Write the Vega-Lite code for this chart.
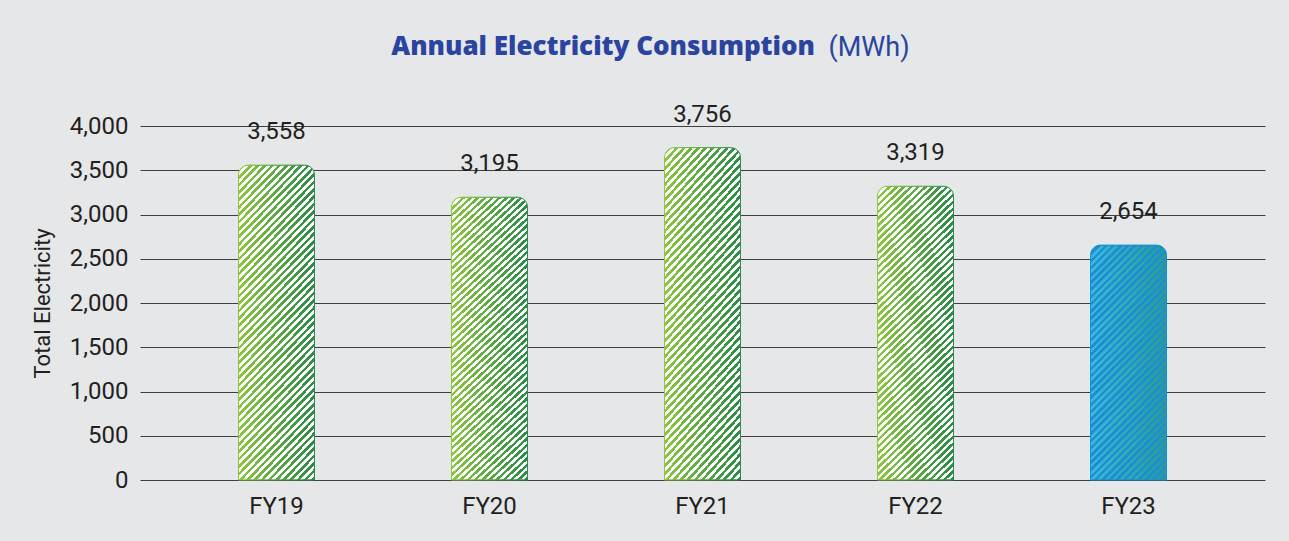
{
"$schema": "https://vega.github.io/schema/vega-lite/v6.json",
"width": 1125,
"height": 354,
"autosize": {"type": "none"},
"padding": {"left": 140, "top": 126, "right": 24, "bottom": 61},
"background": "#e6e7e9",
"title": {"text": "Annual Electricity Consumption", "anchor": "end", "frame": "group", "dx": -450, "offset": -48, "baseline": "alphabetic", "fontSize": 26, "fontWeight": 800, "font": "Open Sans", "color": "#2a44a0"},
"data": {"values": [
{"year": "FY19", "value": 3558},
{"year": "FY20", "value": 3195},
{"year": "FY21", "value": 3756},
{"year": "FY22", "value": 3319},
{"year": "FY23", "value": 2654}
]},
"encoding": {
"x": {"field": "year", "type": "nominal", "sort": null, "scale": {"paddingInner": 0.6432, "paddingOuter": 0.4624},
 "axis": {"title": "(MWh)", "titleX": 688, "titleY": -425, "titleAlign": "left", "titleBaseline": "alphabetic", "titleAngle": 0, "titleFontSize": 27, "titleFontWeight": "normal", "titleColor": "#2a44a0", "titleFont": "Roboto",
 "labelAngle": 0, "labelFontSize": 24, "labelFont": "Roboto", "labelColor": "#231f20", "labelPadding": 14, "ticks": false, "domain": false, "grid": false}},
"y": {"field": "value", "type": "quantitative", "scale": {"domain": [0, 4000], "nice": false},
 "axis": {"values": [0, 500, 1000, 1500, 2000, 2500, 3000, 3500, 4000], "format": ",.0f", "title": "Total Electricity", "titleX": -98, "titleY": 177, "titleAlign": "center", "titleBaseline": "middle", "titleFontSize": 22, "titleFontWeight": "normal", "titleColor": "#231f20", "titleFont": "Roboto",
 "labelFontSize": 24, "labelFont": "Roboto", "labelColor": "#231f20", "labelPadding": 12, "ticks": false, "domain": false, "grid": true, "gridColor": "#3f3f3f", "gridWidth": 1}}
},
"layer": [
{"transform": [{"filter": "datum.year != 'FY23'"}],
 "mark": {"type": "bar", "cornerRadiusEnd": 10, "fill": {"gradient": "linear", "x1": 0, "y1": 0, "x2": 1, "y2": 0, "stops": [{"offset": 0, "color": "#8dc63f"}, {"offset": 1, "color": "#2b8b47"}]}}},
{"transform": [{"filter": "datum.year == 'FY23'"}],
 "mark": {"type": "bar", "cornerRadiusEnd": 10, "fill": {"gradient": "linear", "x1": 0, "y1": 0, "x2": 1, "y2": 0, "stops": [{"offset": 0, "color": "#3ab8df"}, {"offset": 1, "color": "#269c90"}]}}},
{"transform": [{"filter": "datum.year != 'FY23'"}],
 "mark": {"type": "bar", "cornerRadiusEnd": 10, "strokeWidth": 1,
 "stroke": {"gradient": "linear", "x1": 0, "y1": 0, "x2": 1, "y2": 0, "stops": [{"offset": 0, "color": "#8dc63f"}, {"offset": 1, "color": "#2b8b47"}]},
 "fill": {"gradient": "linear", "x1": 0, "y1": 0, "x2": 0.34402, "y2": 1.38514, "stops": [
{"offset":0,"color":"#fff"},
{"offset":0.008,"color":"#fff"},{"offset":0.008,"color":"rgba(255,255,255,0)"},
{"offset":0.016,"color":"rgba(255,255,255,0)"},{"offset":0.016,"color":"#fff"},
{"offset":0.024,"color":"#fff"},{"offset":0.024,"color":"rgba(255,255,255,0)"},
{"offset":0.032,"color":"rgba(255,255,255,0)"},{"offset":0.032,"color":"#fff"},
{"offset":0.04,"color":"#fff"},{"offset":0.04,"color":"rgba(255,255,255,0)"},
{"offset":0.048,"color":"rgba(255,255,255,0)"},{"offset":0.048,"color":"#fff"},
{"offset":0.056,"color":"#fff"},{"offset":0.056,"color":"rgba(255,255,255,0)"},
{"offset":0.064,"color":"rgba(255,255,255,0)"},{"offset":0.064,"color":"#fff"},
{"offset":0.072,"color":"#fff"},{"offset":0.072,"color":"rgba(255,255,255,0)"},
{"offset":0.08,"color":"rgba(255,255,255,0)"},{"offset":0.08,"color":"#fff"},
{"offset":0.088,"color":"#fff"},{"offset":0.088,"color":"rgba(255,255,255,0)"},
{"offset":0.096,"color":"rgba(255,255,255,0)"},{"offset":0.096,"color":"#fff"},
{"offset":0.104,"color":"#fff"},{"offset":0.104,"color":"rgba(255,255,255,0)"},
{"offset":0.112,"color":"rgba(255,255,255,0)"},{"offset":0.112,"color":"#fff"},
{"offset":0.12,"color":"#fff"},{"offset":0.12,"color":"rgba(255,255,255,0)"},
{"offset":0.128,"color":"rgba(255,255,255,0)"},{"offset":0.128,"color":"#fff"},
{"offset":0.136,"color":"#fff"},{"offset":0.136,"color":"rgba(255,255,255,0)"},
{"offset":0.144,"color":"rgba(255,255,255,0)"},{"offset":0.144,"color":"#fff"},
{"offset":0.152,"color":"#fff"},{"offset":0.152,"color":"rgba(255,255,255,0)"},
{"offset":0.16,"color":"rgba(255,255,255,0)"},{"offset":0.16,"color":"#fff"},
{"offset":0.168,"color":"#fff"},{"offset":0.168,"color":"rgba(255,255,255,0)"},
{"offset":0.176,"color":"rgba(255,255,255,0)"},{"offset":0.176,"color":"#fff"},
{"offset":0.184,"color":"#fff"},{"offset":0.184,"color":"rgba(255,255,255,0)"},
{"offset":0.192,"color":"rgba(255,255,255,0)"},{"offset":0.192,"color":"#fff"},
{"offset":0.2,"color":"#fff"},{"offset":0.2,"color":"rgba(255,255,255,0)"},
{"offset":0.208,"color":"rgba(255,255,255,0)"},{"offset":0.208,"color":"#fff"},
{"offset":0.216,"color":"#fff"},{"offset":0.216,"color":"rgba(255,255,255,0)"},
{"offset":0.224,"color":"rgba(255,255,255,0)"},{"offset":0.224,"color":"#fff"},
{"offset":0.232,"color":"#fff"},{"offset":0.232,"color":"rgba(255,255,255,0)"},
{"offset":0.24,"color":"rgba(255,255,255,0)"},{"offset":0.24,"color":"#fff"},
{"offset":0.248,"color":"#fff"},{"offset":0.248,"color":"rgba(255,255,255,0)"},
{"offset":0.256,"color":"rgba(255,255,255,0)"},{"offset":0.256,"color":"#fff"},
{"offset":0.264,"color":"#fff"},{"offset":0.264,"color":"rgba(255,255,255,0)"},
{"offset":0.272,"color":"rgba(255,255,255,0)"},{"offset":0.272,"color":"#fff"},
{"offset":0.28,"color":"#fff"},{"offset":0.28,"color":"rgba(255,255,255,0)"},
{"offset":0.288,"color":"rgba(255,255,255,0)"},{"offset":0.288,"color":"#fff"},
{"offset":0.296,"color":"#fff"},{"offset":0.296,"color":"rgba(255,255,255,0)"},
{"offset":0.304,"color":"rgba(255,255,255,0)"},{"offset":0.304,"color":"#fff"},
{"offset":0.312,"color":"#fff"},{"offset":0.312,"color":"rgba(255,255,255,0)"},
{"offset":0.32,"color":"rgba(255,255,255,0)"},{"offset":0.32,"color":"#fff"},
{"offset":0.328,"color":"#fff"},{"offset":0.328,"color":"rgba(255,255,255,0)"},
{"offset":0.336,"color":"rgba(255,255,255,0)"},{"offset":0.336,"color":"#fff"},
{"offset":0.344,"color":"#fff"},{"offset":0.344,"color":"rgba(255,255,255,0)"},
{"offset":0.352,"color":"rgba(255,255,255,0)"},{"offset":0.352,"color":"#fff"},
{"offset":0.36,"color":"#fff"},{"offset":0.36,"color":"rgba(255,255,255,0)"},
{"offset":0.368,"color":"rgba(255,255,255,0)"},{"offset":0.368,"color":"#fff"},
{"offset":0.376,"color":"#fff"},{"offset":0.376,"color":"rgba(255,255,255,0)"},
{"offset":0.384,"color":"rgba(255,255,255,0)"},{"offset":0.384,"color":"#fff"},
{"offset":0.392,"color":"#fff"},{"offset":0.392,"color":"rgba(255,255,255,0)"},
{"offset":0.4,"color":"rgba(255,255,255,0)"},{"offset":0.4,"color":"#fff"},
{"offset":0.408,"color":"#fff"},{"offset":0.408,"color":"rgba(255,255,255,0)"},
{"offset":0.416,"color":"rgba(255,255,255,0)"},{"offset":0.416,"color":"#fff"},
{"offset":0.424,"color":"#fff"},{"offset":0.424,"color":"rgba(255,255,255,0)"},
{"offset":0.432,"color":"rgba(255,255,255,0)"},{"offset":0.432,"color":"#fff"},
{"offset":0.44,"color":"#fff"},{"offset":0.44,"color":"rgba(255,255,255,0)"},
{"offset":0.448,"color":"rgba(255,255,255,0)"},{"offset":0.448,"color":"#fff"},
{"offset":0.456,"color":"#fff"},{"offset":0.456,"color":"rgba(255,255,255,0)"},
{"offset":0.464,"color":"rgba(255,255,255,0)"},{"offset":0.464,"color":"#fff"},
{"offset":0.472,"color":"#fff"},{"offset":0.472,"color":"rgba(255,255,255,0)"},
{"offset":0.48,"color":"rgba(255,255,255,0)"},{"offset":0.48,"color":"#fff"},
{"offset":0.488,"color":"#fff"},{"offset":0.488,"color":"rgba(255,255,255,0)"},
{"offset":0.496,"color":"rgba(255,255,255,0)"},{"offset":0.496,"color":"#fff"},
{"offset":0.504,"color":"#fff"},{"offset":0.504,"color":"rgba(255,255,255,0)"},
{"offset":0.512,"color":"rgba(255,255,255,0)"},{"offset":0.512,"color":"#fff"},
{"offset":0.52,"color":"#fff"},{"offset":0.52,"color":"rgba(255,255,255,0)"},
{"offset":0.528,"color":"rgba(255,255,255,0)"},{"offset":0.528,"color":"#fff"},
{"offset":0.536,"color":"#fff"},{"offset":0.536,"color":"rgba(255,255,255,0)"},
{"offset":0.544,"color":"rgba(255,255,255,0)"},{"offset":0.544,"color":"#fff"},
{"offset":0.552,"color":"#fff"},{"offset":0.552,"color":"rgba(255,255,255,0)"},
{"offset":0.56,"color":"rgba(255,255,255,0)"},{"offset":0.56,"color":"#fff"},
{"offset":0.568,"color":"#fff"},{"offset":0.568,"color":"rgba(255,255,255,0)"},
{"offset":0.576,"color":"rgba(255,255,255,0)"},{"offset":0.576,"color":"#fff"},
{"offset":0.584,"color":"#fff"},{"offset":0.584,"color":"rgba(255,255,255,0)"},
{"offset":0.592,"color":"rgba(255,255,255,0)"},{"offset":0.592,"color":"#fff"},
{"offset":0.6,"color":"#fff"},{"offset":0.6,"color":"rgba(255,255,255,0)"},
{"offset":0.608,"color":"rgba(255,255,255,0)"},{"offset":0.608,"color":"#fff"},
{"offset":0.616,"color":"#fff"},{"offset":0.616,"color":"rgba(255,255,255,0)"},
{"offset":0.624,"color":"rgba(255,255,255,0)"},{"offset":0.624,"color":"#fff"},
{"offset":0.632,"color":"#fff"},{"offset":0.632,"color":"rgba(255,255,255,0)"},
{"offset":0.64,"color":"rgba(255,255,255,0)"},{"offset":0.64,"color":"#fff"},
{"offset":0.648,"color":"#fff"},{"offset":0.648,"color":"rgba(255,255,255,0)"},
{"offset":0.656,"color":"rgba(255,255,255,0)"},{"offset":0.656,"color":"#fff"},
{"offset":0.664,"color":"#fff"},{"offset":0.664,"color":"rgba(255,255,255,0)"},
{"offset":0.672,"color":"rgba(255,255,255,0)"},{"offset":0.672,"color":"#fff"},
{"offset":0.68,"color":"#fff"},{"offset":0.68,"color":"rgba(255,255,255,0)"},
{"offset":0.688,"color":"rgba(255,255,255,0)"},{"offset":0.688,"color":"#fff"},
{"offset":0.696,"color":"#fff"},{"offset":0.696,"color":"rgba(255,255,255,0)"},
{"offset":0.704,"color":"rgba(255,255,255,0)"},{"offset":0.704,"color":"#fff"},
{"offset":0.712,"color":"#fff"},{"offset":0.712,"color":"rgba(255,255,255,0)"},
{"offset":0.72,"color":"rgba(255,255,255,0)"},{"offset":0.72,"color":"#fff"},
{"offset":0.728,"color":"#fff"},{"offset":0.728,"color":"rgba(255,255,255,0)"},
{"offset":0.736,"color":"rgba(255,255,255,0)"},{"offset":0.736,"color":"#fff"},
{"offset":0.744,"color":"#fff"},{"offset":0.744,"color":"rgba(255,255,255,0)"},
{"offset":0.752,"color":"rgba(255,255,255,0)"},{"offset":0.752,"color":"#fff"},
{"offset":0.76,"color":"#fff"},{"offset":0.76,"color":"rgba(255,255,255,0)"},
{"offset":0.768,"color":"rgba(255,255,255,0)"},{"offset":0.768,"color":"#fff"},
{"offset":0.776,"color":"#fff"},{"offset":0.776,"color":"rgba(255,255,255,0)"},
{"offset":0.784,"color":"rgba(255,255,255,0)"},{"offset":0.784,"color":"#fff"},
{"offset":0.792,"color":"#fff"},{"offset":0.792,"color":"rgba(255,255,255,0)"},
{"offset":0.8,"color":"rgba(255,255,255,0)"},{"offset":0.8,"color":"#fff"},
{"offset":0.808,"color":"#fff"},{"offset":0.808,"color":"rgba(255,255,255,0)"},
{"offset":0.816,"color":"rgba(255,255,255,0)"},{"offset":0.816,"color":"#fff"},
{"offset":0.824,"color":"#fff"},{"offset":0.824,"color":"rgba(255,255,255,0)"},
{"offset":0.832,"color":"rgba(255,255,255,0)"},{"offset":0.832,"color":"#fff"},
{"offset":0.84,"color":"#fff"},{"offset":0.84,"color":"rgba(255,255,255,0)"},
{"offset":0.848,"color":"rgba(255,255,255,0)"},{"offset":0.848,"color":"#fff"},
{"offset":0.856,"color":"#fff"},{"offset":0.856,"color":"rgba(255,255,255,0)"},
{"offset":0.864,"color":"rgba(255,255,255,0)"}
]}}},
{"transform": [{"filter": "datum.year == 'FY23'"}],
 "mark": {"type": "bar", "cornerRadiusEnd": 10, "strokeWidth": 1, "stroke": "#1b8fd3",
 "fill": {"gradient": "linear", "x1": 0, "y1": 0, "x2": 0.56116, "y2": 1.73429, "stops": [
{"offset":0,"color":"#1d8ed0"},
{"offset":0.008,"color":"#1d8ed0"},{"offset":0.008,"color":"rgba(29,142,208,0)"},
{"offset":0.016,"color":"rgba(29,142,208,0)"},{"offset":0.016,"color":"#1d8ed0"},
{"offset":0.024,"color":"#1d8ed0"},{"offset":0.024,"color":"rgba(29,142,208,0)"},
{"offset":0.032,"color":"rgba(29,142,208,0)"},{"offset":0.032,"color":"#1d8ed0"},
{"offset":0.04,"color":"#1d8ed0"},{"offset":0.04,"color":"rgba(29,142,208,0)"},
{"offset":0.048,"color":"rgba(29,142,208,0)"},{"offset":0.048,"color":"#1d8ed0"},
{"offset":0.056,"color":"#1d8ed0"},{"offset":0.056,"color":"rgba(29,142,208,0)"},
{"offset":0.064,"color":"rgba(29,142,208,0)"},{"offset":0.064,"color":"#1d8ed0"},
{"offset":0.072,"color":"#1d8ed0"},{"offset":0.072,"color":"rgba(29,142,208,0)"},
{"offset":0.08,"color":"rgba(29,142,208,0)"},{"offset":0.08,"color":"#1d8ed0"},
{"offset":0.088,"color":"#1d8ed0"},{"offset":0.088,"color":"rgba(29,142,208,0)"},
{"offset":0.096,"color":"rgba(29,142,208,0)"},{"offset":0.096,"color":"#1d8ed0"},
{"offset":0.104,"color":"#1d8ed0"},{"offset":0.104,"color":"rgba(29,142,208,0)"},
{"offset":0.112,"color":"rgba(29,142,208,0)"},{"offset":0.112,"color":"#1d8ed0"},
{"offset":0.12,"color":"#1d8ed0"},{"offset":0.12,"color":"rgba(29,142,208,0)"},
{"offset":0.128,"color":"rgba(29,142,208,0)"},{"offset":0.128,"color":"#1d8ed0"},
{"offset":0.136,"color":"#1d8ed0"},{"offset":0.136,"color":"rgba(29,142,208,0)"},
{"offset":0.144,"color":"rgba(29,142,208,0)"},{"offset":0.144,"color":"#1d8ed0"},
{"offset":0.152,"color":"#1d8ed0"},{"offset":0.152,"color":"rgba(29,142,208,0)"},
{"offset":0.16,"color":"rgba(29,142,208,0)"},{"offset":0.16,"color":"#1d8ed0"},
{"offset":0.168,"color":"#1d8ed0"},{"offset":0.168,"color":"rgba(29,142,208,0)"},
{"offset":0.176,"color":"rgba(29,142,208,0)"},{"offset":0.176,"color":"#1d8ed0"},
{"offset":0.184,"color":"#1d8ed0"},{"offset":0.184,"color":"rgba(29,142,208,0)"},
{"offset":0.192,"color":"rgba(29,142,208,0)"},{"offset":0.192,"color":"#1d8ed0"},
{"offset":0.2,"color":"#1d8ed0"},{"offset":0.2,"color":"rgba(29,142,208,0)"},
{"offset":0.208,"color":"rgba(29,142,208,0)"},{"offset":0.208,"color":"#1d8ed0"},
{"offset":0.216,"color":"#1d8ed0"},{"offset":0.216,"color":"rgba(29,142,208,0)"},
{"offset":0.224,"color":"rgba(29,142,208,0)"},{"offset":0.224,"color":"#1d8ed0"},
{"offset":0.232,"color":"#1d8ed0"},{"offset":0.232,"color":"rgba(29,142,208,0)"},
{"offset":0.24,"color":"rgba(29,142,208,0)"},{"offset":0.24,"color":"#1d8ed0"},
{"offset":0.248,"color":"#1d8ed0"},{"offset":0.248,"color":"rgba(29,142,208,0)"},
{"offset":0.256,"color":"rgba(29,142,208,0)"},{"offset":0.256,"color":"#1d8ed0"},
{"offset":0.264,"color":"#1d8ed0"},{"offset":0.264,"color":"rgba(29,142,208,0)"},
{"offset":0.272,"color":"rgba(29,142,208,0)"},{"offset":0.272,"color":"#1d8ed0"},
{"offset":0.28,"color":"#1d8ed0"},{"offset":0.28,"color":"rgba(29,142,208,0)"},
{"offset":0.288,"color":"rgba(29,142,208,0)"},{"offset":0.288,"color":"#1d8ed0"},
{"offset":0.296,"color":"#1d8ed0"},{"offset":0.296,"color":"rgba(29,142,208,0)"},
{"offset":0.304,"color":"rgba(29,142,208,0)"},{"offset":0.304,"color":"#1d8ed0"},
{"offset":0.312,"color":"#1d8ed0"},{"offset":0.312,"color":"rgba(29,142,208,0)"},
{"offset":0.32,"color":"rgba(29,142,208,0)"},{"offset":0.32,"color":"#1d8ed0"},
{"offset":0.328,"color":"#1d8ed0"},{"offset":0.328,"color":"rgba(29,142,208,0)"},
{"offset":0.336,"color":"rgba(29,142,208,0)"},{"offset":0.336,"color":"#1d8ed0"},
{"offset":0.344,"color":"#1d8ed0"},{"offset":0.344,"color":"rgba(29,142,208,0)"},
{"offset":0.352,"color":"rgba(29,142,208,0)"},{"offset":0.352,"color":"#1d8ed0"},
{"offset":0.36,"color":"#1d8ed0"},{"offset":0.36,"color":"rgba(29,142,208,0)"},
{"offset":0.368,"color":"rgba(29,142,208,0)"},{"offset":0.368,"color":"#1d8ed0"},
{"offset":0.376,"color":"#1d8ed0"},{"offset":0.376,"color":"rgba(29,142,208,0)"},
{"offset":0.384,"color":"rgba(29,142,208,0)"},{"offset":0.384,"color":"#1d8ed0"},
{"offset":0.392,"color":"#1d8ed0"},{"offset":0.392,"color":"rgba(29,142,208,0)"},
{"offset":0.4,"color":"rgba(29,142,208,0)"},{"offset":0.4,"color":"#1d8ed0"},
{"offset":0.408,"color":"#1d8ed0"},{"offset":0.408,"color":"rgba(29,142,208,0)"},
{"offset":0.416,"color":"rgba(29,142,208,0)"},{"offset":0.416,"color":"#1d8ed0"},
{"offset":0.424,"color":"#1d8ed0"},{"offset":0.424,"color":"rgba(29,142,208,0)"},
{"offset":0.432,"color":"rgba(29,142,208,0)"},{"offset":0.432,"color":"#1d8ed0"},
{"offset":0.44,"color":"#1d8ed0"},{"offset":0.44,"color":"rgba(29,142,208,0)"},
{"offset":0.448,"color":"rgba(29,142,208,0)"},{"offset":0.448,"color":"#1d8ed0"},
{"offset":0.456,"color":"#1d8ed0"},{"offset":0.456,"color":"rgba(29,142,208,0)"},
{"offset":0.464,"color":"rgba(29,142,208,0)"},{"offset":0.464,"color":"#1d8ed0"},
{"offset":0.472,"color":"#1d8ed0"},{"offset":0.472,"color":"rgba(29,142,208,0)"},
{"offset":0.48,"color":"rgba(29,142,208,0)"},{"offset":0.48,"color":"#1d8ed0"},
{"offset":0.488,"color":"#1d8ed0"},{"offset":0.488,"color":"rgba(29,142,208,0)"},
{"offset":0.496,"color":"rgba(29,142,208,0)"},{"offset":0.496,"color":"#1d8ed0"},
{"offset":0.504,"color":"#1d8ed0"},{"offset":0.504,"color":"rgba(29,142,208,0)"},
{"offset":0.512,"color":"rgba(29,142,208,0)"},{"offset":0.512,"color":"#1d8ed0"},
{"offset":0.52,"color":"#1d8ed0"},{"offset":0.52,"color":"rgba(29,142,208,0)"},
{"offset":0.528,"color":"rgba(29,142,208,0)"},{"offset":0.528,"color":"#1d8ed0"},
{"offset":0.536,"color":"#1d8ed0"},{"offset":0.536,"color":"rgba(29,142,208,0)"},
{"offset":0.544,"color":"rgba(29,142,208,0)"},{"offset":0.544,"color":"#1d8ed0"},
{"offset":0.552,"color":"#1d8ed0"},{"offset":0.552,"color":"rgba(29,142,208,0)"},
{"offset":0.56,"color":"rgba(29,142,208,0)"},{"offset":0.56,"color":"#1d8ed0"},
{"offset":0.568,"color":"#1d8ed0"},{"offset":0.568,"color":"rgba(29,142,208,0)"},
{"offset":0.576,"color":"rgba(29,142,208,0)"},{"offset":0.576,"color":"#1d8ed0"},
{"offset":0.584,"color":"#1d8ed0"},{"offset":0.584,"color":"rgba(29,142,208,0)"},
{"offset":0.592,"color":"rgba(29,142,208,0)"},{"offset":0.592,"color":"#1d8ed0"},
{"offset":0.6,"color":"#1d8ed0"},{"offset":0.6,"color":"rgba(29,142,208,0)"},
{"offset":0.608,"color":"rgba(29,142,208,0)"},{"offset":0.608,"color":"#1d8ed0"},
{"offset":0.616,"color":"#1d8ed0"},{"offset":0.616,"color":"rgba(29,142,208,0)"},
{"offset":0.624,"color":"rgba(29,142,208,0)"},{"offset":0.624,"color":"#1d8ed0"},
{"offset":0.632,"color":"#1d8ed0"},{"offset":0.632,"color":"rgba(29,142,208,0)"},
{"offset":0.64,"color":"rgba(29,142,208,0)"},{"offset":0.64,"color":"#1d8ed0"},
{"offset":0.648,"color":"#1d8ed0"},{"offset":0.648,"color":"rgba(29,142,208,0)"},
{"offset":0.656,"color":"rgba(29,142,208,0)"},{"offset":0.656,"color":"#1d8ed0"},
{"offset":0.664,"color":"#1d8ed0"},{"offset":0.664,"color":"rgba(29,142,208,0)"},
{"offset":0.672,"color":"rgba(29,142,208,0)"},{"offset":0.672,"color":"#1d8ed0"},
{"offset":0.68,"color":"#1d8ed0"},{"offset":0.68,"color":"rgba(29,142,208,0)"},
{"offset":0.688,"color":"rgba(29,142,208,0)"},{"offset":0.688,"color":"#1d8ed0"},
{"offset":0.696,"color":"#1d8ed0"},{"offset":0.696,"color":"rgba(29,142,208,0)"},
{"offset":0.704,"color":"rgba(29,142,208,0)"}
]}}},
{"mark": {"type": "text", "fontSize": 24, "font": "Roboto", "baseline": "alphabetic", "dy": -26, "color": "#231f20"},
 "encoding": {"text": {"field": "value", "type": "quantitative", "format": ","}}}
],
"config": {"view": {"stroke": null}, "font": "Roboto"}
}
